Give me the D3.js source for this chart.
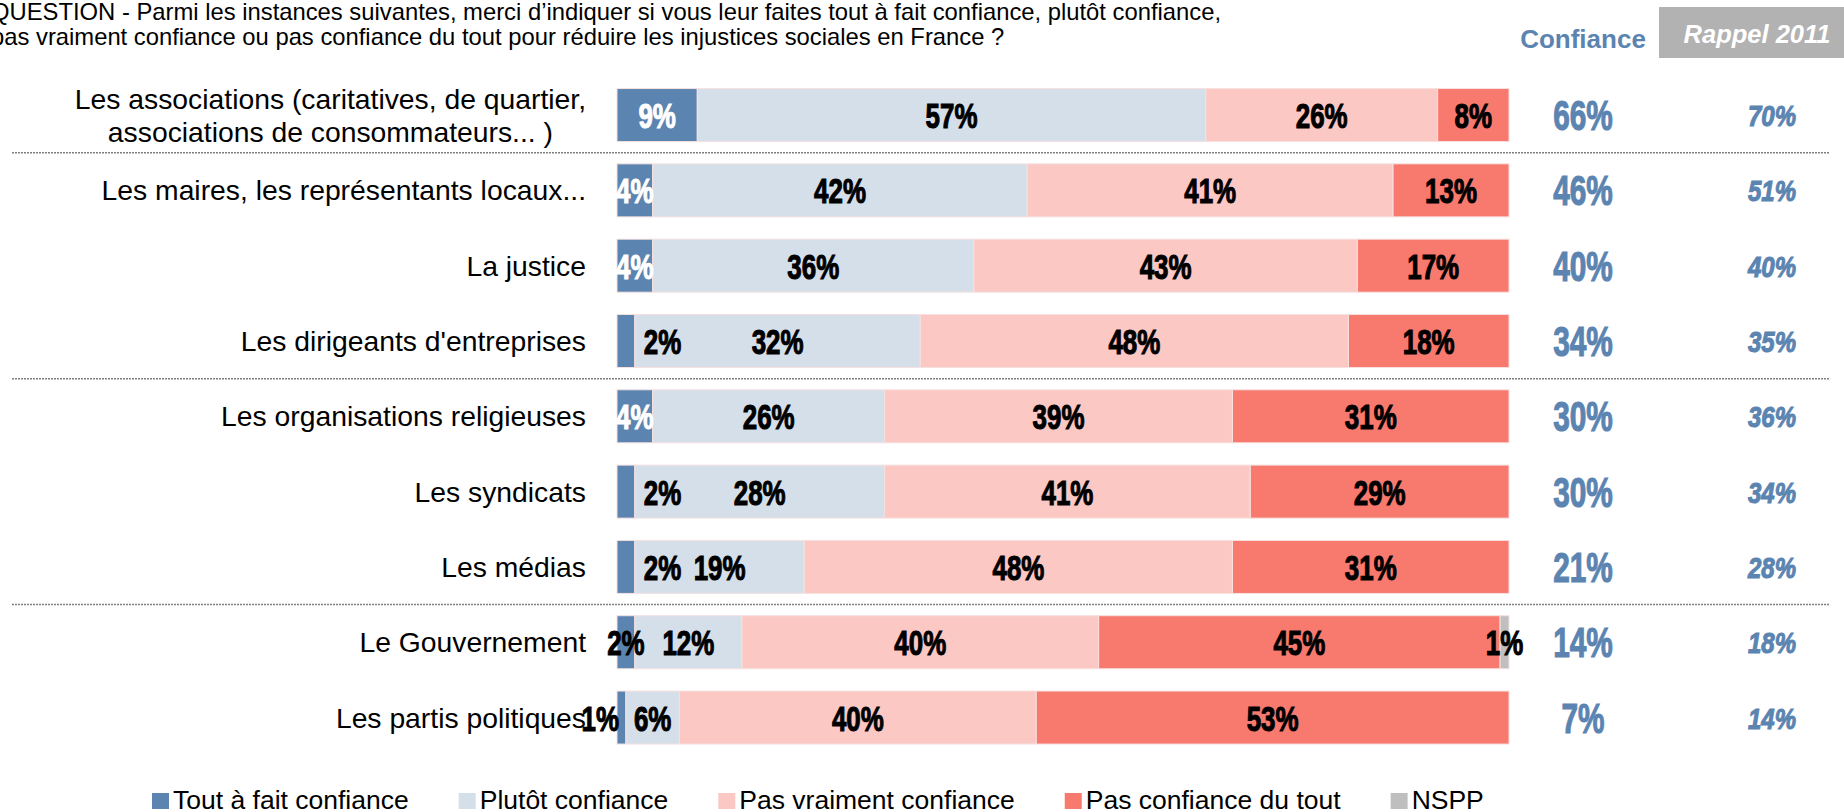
<!DOCTYPE html>
<html>
<head>
<meta charset="utf-8">
<script src="https://d3js.org/d3.v7.min.js"></script>
<style>
  body { margin: 0; background: #fff; overflow: hidden; }
  svg { display: block; font-family: "Liberation Sans", Arial, sans-serif; }
</style>
</head>
<body>
<svg width="1844" height="812"></svg>
<script>
// data
var categories = [
  "Les associations (caritatives, de quartier,\nassociations de consommateurs... )",
  "Les maires, les représentants locaux...",
  "La justice",
  "Les dirigeants d'entreprises",
  "Les organisations religieuses",
  "Les syndicats",
  "Les médias",
  "Le Gouvernement",
  "Les partis politiques"
];
var toutAFait   = [9, 4, 4, 2, 4, 2, 2, 2, 1];
var plutot      = [57, 42, 36, 32, 26, 28, 19, 12, 6];
var pasVraiment = [26, 41, 43, 48, 39, 41, 48, 40, 40];
var pasDuTout   = [8, 13, 17, 18, 31, 29, 31, 45, 53];
var nspp        = [0, 0, 0, 0, 0, 0, 0, 1, 0];
var confiance   = [66, 46, 40, 34, 30, 30, 21, 14, 7];
var rappel2011  = [70, 51, 40, 35, 36, 34, 28, 18, 14];
var seriesNames = ["Tout à fait confiance", "Plutôt confiance", "Pas vraiment confiance", "Pas confiance du tout", "NSPP"];
var seriesColors = ["#5b84b1", "#d5dfea", "#fcc8c4", "#f8796d", "#bfbfbf"];
var separatorsAfter = [0, 3, 6];
var questionLines = [
  "QUESTION - Parmi les instances suivantes, merci d\u2019indiquer si vous leur faites tout à fait confiance, plutôt confiance,",
  "pas vraiment confiance ou pas confiance du tout pour réduire les injustices sociales en France ?"
];

var blue = "#5b84b1";
var svg = d3.select("svg");

var keys = ["s0", "s1", "s2", "s3", "s4"];
var table = categories.map(function(c, i) {
  return { cat: c, s0: toutAFait[i], s1: plutot[i], s2: pasVraiment[i], s3: pasDuTout[i], s4: nspp[i] };
});
var stacked = d3.stack().keys(keys)(table);

var x = d3.scaleLinear().domain([0, 100]).range([617, 1509]);
var y = d3.scaleBand().domain(categories).range([77.4, 755.2]).paddingInner(0.296).paddingOuter(0.148);
var bw = y.bandwidth();
var mid = function(c) { return y(c) + bw / 2; };

// condensed heavy numbers (Impact-like look)
function pct(g, txt, px, py, size, sx, anchor, fill, italic) {
  g.append("text")
    .attr("transform", "translate(" + px + "," + py + ") scale(" + sx + ",1)")
    .attr("text-anchor", anchor)
    .attr("font-size", size)
    .attr("font-weight", "bold")
    .attr("font-style", italic ? "italic" : "normal")
    .attr("fill", fill)
    .attr("stroke", fill)
    .attr("stroke-width", 1.1)
    .text(txt);
}

// question
svg.append("g").selectAll("text")
  .data(questionLines)
  .enter().append("text")
  .attr("x", -9)
  .attr("y", function(d, i) { return 20 + i * 25; })
  .attr("font-size", 23.8)
  .attr("fill", "#000")
  .text(function(d) { return d; });

// headers
svg.append("text")
  .attr("x", 1583).attr("y", 48)
  .attr("text-anchor", "middle")
  .attr("font-size", 26).attr("font-weight", "bold")
  .attr("fill", blue)
  .text("Confiance");
svg.append("rect")
  .attr("x", 1659).attr("y", 7).attr("width", 185).attr("height", 51)
  .attr("fill", "#b2b2b2");
svg.append("text")
  .attr("x", 1757).attr("y", 43)
  .attr("text-anchor", "middle")
  .attr("font-size", 25.5).attr("font-weight", "bold").attr("font-style", "italic")
  .attr("fill", "#fff")
  .text("Rappel 2011");

// dotted separators
svg.append("g").selectAll("line")
  .data(separatorsAfter)
  .enter().append("line")
  .attr("x1", 12).attr("x2", 1829)
  .attr("y1", function(i) { return y(categories[i]) + bw + y.step() * y.paddingInner() / 2; })
  .attr("y2", function(i) { return y(categories[i]) + bw + y.step() * y.paddingInner() / 2; })
  .attr("stroke", "#7f7f7f")
  .attr("stroke-width", 1.5)
  .attr("stroke-dasharray", "2,1");

// category labels
var labels = svg.append("g");
categories.forEach(function(c) {
  var lines = c.split("\n");
  if (lines.length == 1) {
    labels.append("text")
      .attr("x", 586).attr("y", mid(c) + 10)
      .attr("text-anchor", "end")
      .attr("font-size", 28.3)
      .text(c);
  } else {
    var t = labels.append("text")
      .attr("text-anchor", "middle")
      .attr("font-size", 28.3);
    lines.forEach(function(l, j) {
      t.append("tspan").attr("x", 0)
        .attr("y", mid(c) + 10 + (j - (lines.length - 1) / 2) * 33)
        .text(l);
    });
    var w = t.node().getBBox().width;
    t.attr("transform", "translate(" + (586 - w / 2) + ",0)");
  }
});

// bars
var layers = svg.append("g").selectAll("g")
  .data(stacked)
  .enter().append("g")
  .attr("fill", function(d, i) { return seriesColors[i]; });
layers.selectAll("rect")
  .data(function(d) { return d; })
  .enter().append("rect")
  .filter(function(d) { return d[1] > d[0]; })
  .attr("x", function(d) { return x(d[0]); })
  .attr("y", function(d) { return y(d.data.cat); })
  .attr("width", function(d) { return x(d[1]) - x(d[0]); })
  .attr("height", bw)
  .attr("stroke", "#f6e1e0")
  .attr("stroke-width", 1);

// bar value labels
var vals = svg.append("g");
stacked.forEach(function(layer, si) {
  layer.forEach(function(d, ri) {
    var v = d[1] - d[0];
    if (v <= 0) return;
    var cy = mid(d.data.cat) + 13;
    var cx = (x(d[0]) + x(d[1])) / 2;
    if (si == 0 && v < 4) {
      var next = plutot[ri];
      if (next >= 15) pct(vals, v + "%", x(d[1]) + 9, cy, 36, 0.72, "start", "#000");
      else if (next >= 10) pct(vals, v + "%", cx, cy, 36, 0.72, "middle", "#000");
      else pct(vals, v + "%", x(d[0]) + 2, cy, 36, 0.72, "end", "#000");
    } else {
      pct(vals, v + "%", cx, cy, 36, 0.72, "middle", si == 0 ? "#fff" : "#000");
    }
  });
});

// confiance + rappel columns
var side = svg.append("g");
categories.forEach(function(c, i) {
  pct(side, confiance[i] + "%", 1583, mid(c) + 15, 42, 0.71, "middle", blue);
  pct(side, rappel2011[i] + "%", 1772, mid(c) + 11, 30, 0.8, "middle", blue, true);
});

// legend
var legend = svg.append("g");
var lx = 152;
seriesNames.forEach(function(n, i) {
  legend.append("rect")
    .attr("x", lx).attr("y", 793).attr("width", 17).attr("height", 16)
    .attr("fill", seriesColors[i]);
  var t = legend.append("text")
    .attr("x", lx + 21).attr("y", 809)
    .attr("font-size", 26.5)
    .text(n);
  lx += 21 + t.node().getComputedTextLength() + 50;
});
</script>
</body>
</html>
